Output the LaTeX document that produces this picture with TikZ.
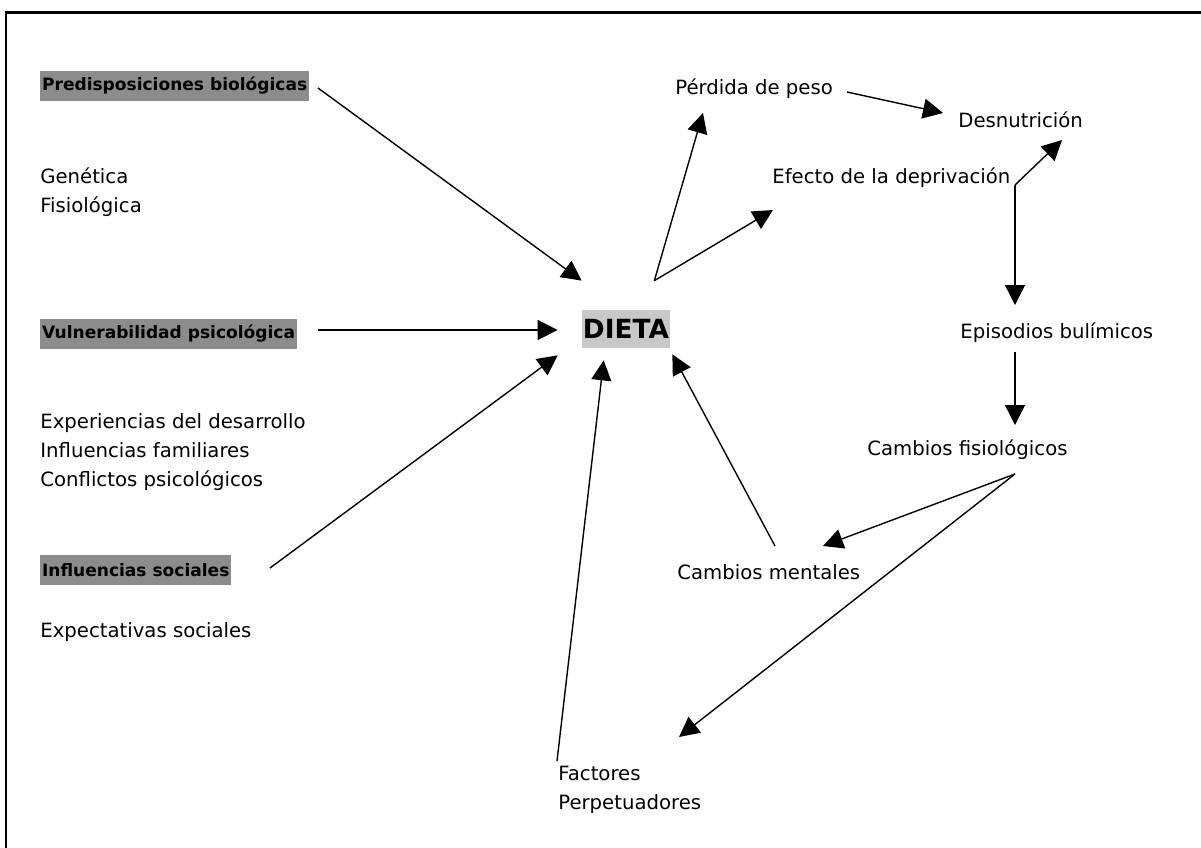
\documentclass[tikz,border=0pt]{standalone}
\usepackage{fontspec}
\setmainfont{DejaVu Sans}
\usepackage{tikz}
\usetikzlibrary{arrows.meta,positioning,calc}

\definecolor{headgray}{RGB}{140,140,140}
\definecolor{dietagray}{RGB}{200,200,200}

\begin{document}
\begin{tikzpicture}[
  x=0.02cm, y=-0.02cm,
  txt/.style={anchor=west, inner sep=0pt, align=left, font=\fontsize{11.2}{16.4}\selectfont},
  head/.style={anchor=west, fill=headgray, inner xsep=1pt, inner ysep=0pt, minimum height=0.6cm, font=\bfseries\fontsize{9.7}{12}\selectfont},
  core/.style={fill=dietagray, minimum width=1.76cm, minimum height=0.76cm, inner sep=0pt, font=\bfseries\fontsize{15}{18}\selectfont},
  arrow/.style={-{Triangle[length=4mm, width=4mm]}, line width=0.8pt},
]
\useasboundingbox (0,0) rectangle (1201,848);
\draw[line width=1.2pt] (6,848) -- (6,12.5) -- (1201,12.5);

% left column
\node[head] (predis) at (40,86) {Predisposiciones biológicas};
\node[txt] (genet) at (40,192) {Genética\\Fisiológica};
\node[head] (vulner) at (40,334) {Vulnerabilidad psicológica};
\node[txt] (exper) at (40,452) {Experiencias del desarrollo\\Influencias familiares\\Conflictos psicológicos};
\node[head] (social) at (40,570) {Influencias sociales};
\node[txt] (expect) at (40,632) {Expectativas sociales};

% centre
\node[core] (dieta) at (626,329) {DIETA};

% right side
\node[txt] (perdida) at (675,89) {Pérdida de peso};
\node[txt] (desnut) at (958,120) {Desnutrición};
\node[txt] (efecto) at (772,178) {Efecto de la deprivación};
\node[txt] (episod) at (960,333) {Episodios bulímicos};
\node[txt] (cfisio) at (867,450) {Cambios fisiológicos};
\node[txt] (cmental) at (677,572) {Cambios mentales};
\node[txt] (factor) at (558,790) {Factores\\Perpetuadores};

\coordinate (split) at ($(efecto.west)+(243,7)$);
\coordinate (fork) at ($(cfisio.west)+(148,24)$);

% into DIETA
\draw[arrow] ($(predis.west)+(278,2)$) -- ($(dieta.north west)+(0,-29)$);
\draw[arrow] ($(vulner.west)+(278,-4)$) -- ($(dieta.west)+(-24,1)$);
\draw[arrow] ($(social.west)+(230,-2)$) -- ($(dieta.south west)+(-24,7)$);
\draw[arrow] ($(factor.west)+(-1,-29)$) -- ($(dieta.south west)+(22,12)$);
\draw[arrow] ($(cmental.west)+(98,-26)$) -- ($(dieta.south east)+(2,6)$);

% out of DIETA
\draw[arrow] ($(dieta.north east)+(-16,-29)$) -- ($(perdida.west)+(28,24)$);
\draw[arrow] ($(dieta.north east)+(-16,-29)$) -- ($(efecto.west)+(1,32)$);
\draw[arrow] ($(perdida.west)+(172,3)$) -- ($(desnut.west)+(-15,-7)$);
\draw[arrow] (split) -- ($(desnut.west)+(104,20)$);
\draw[arrow] (split) -- ($(episod.west)+(55,-28)$);
\draw[arrow] ($(episod.west)+(55,19)$) -- ($(cfisio.west)+(148,-25)$);
\draw[arrow] (fork) -- ($(cmental.west)+(146,-26)$);
\draw[arrow] (fork) -- ($(factor.west)+(121,-53)$);

\end{tikzpicture}
\end{document}
